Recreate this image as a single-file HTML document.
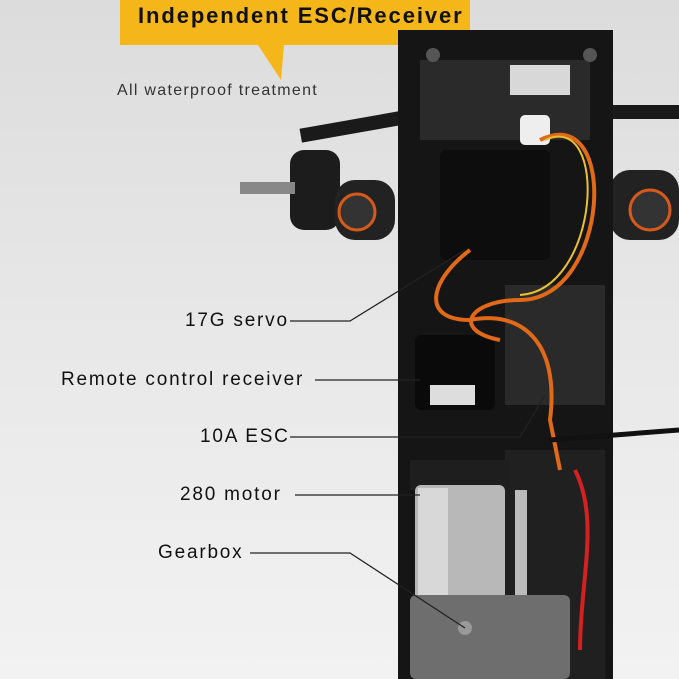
<!DOCTYPE html>
<html><head><style>
body{margin:0;width:679px;height:679px;overflow:hidden;background:linear-gradient(180deg,#dcdcdc 0%,#e8e8e8 50%,#f2f2f2 100%);font-family:"Liberation Sans","DejaVu Sans",sans-serif;position:relative}
.t{position:absolute;color:#111;font-size:19px;letter-spacing:1.8px;white-space:nowrap}
</style></head><body>
<svg width="679" height="679" style="position:absolute;left:0;top:0">
<path d="M120 0 H470 V45 H284 L281 80 L258 45 H120 Z" fill="#f5b619"/>
<rect x="300" y="120" width="110" height="14" fill="#1a1a1a" transform="rotate(-10 350 127)"/>
<rect x="290" y="150" width="50" height="80" rx="14" fill="#1c1c1c"/>
<rect x="240" y="182" width="55" height="12" fill="#888"/>
<rect x="335" y="180" width="60" height="60" rx="20" fill="#222"/>
<circle cx="357" cy="212" r="18" fill="#333" stroke="#d85a1a" stroke-width="3"/>
<rect x="600" y="105" width="79" height="14" fill="#1a1a1a"/>
<rect x="610" y="170" width="69" height="70" rx="20" fill="#222"/>
<circle cx="650" cy="210" r="20" fill="#333" stroke="#d85a1a" stroke-width="3"/>
<rect x="398" y="30" width="215" height="649" fill="#151515"/>
<rect x="420" y="60" width="170" height="80" fill="#2a2a2a"/>
<rect x="510" y="65" width="60" height="30" fill="#d8d8d8"/>
<circle cx="433" cy="55" r="7" fill="#555"/><circle cx="590" cy="55" r="7" fill="#555"/>
<rect x="440" y="150" width="110" height="110" rx="6" fill="#0d0d0d"/>
<rect x="520" y="115" width="30" height="30" rx="5" fill="#eee"/>
<rect x="505" y="285" width="100" height="120" fill="#2a2a2a"/>
<rect x="415" y="335" width="80" height="75" rx="6" fill="#0a0a0a"/>
<rect x="430" y="385" width="45" height="20" fill="#ddd"/>
<rect x="505" y="450" width="100" height="229" fill="#202020"/>
<rect x="410" y="460" width="100" height="30" fill="#1e1e1e"/>
<rect x="415" y="485" width="90" height="115" rx="6" fill="#b8b8b8"/>
<rect x="418" y="488" width="30" height="108" fill="#d8d8d8"/>
<rect x="515" y="490" width="12" height="110" fill="#bbb"/>
<rect x="410" y="595" width="160" height="84" rx="6" fill="#6e6e6e"/>
<circle cx="465" cy="628" r="7" fill="#999"/>
<path d="M470 250 C430 280 420 320 470 320 C520 310 560 340 550 420 L560 470" stroke="#e06a18" stroke-width="4" fill="none"/>
<path d="M540 140 C620 100 610 300 520 300 C470 300 450 330 500 340" stroke="#e06a18" stroke-width="4" fill="none"/>
<path d="M545 140 C610 110 600 290 520 295" stroke="#e8c030" stroke-width="2" fill="none"/>
<path d="M550 440 L679 430" stroke="#111" stroke-width="5" fill="none"/>
<path d="M575 470 C600 520 580 580 580 650" stroke="#d42020" stroke-width="4" fill="none"/>
<g stroke="#222" stroke-width="1.3" fill="none">
<path d="M290 321 H350 L465 250"/>
<path d="M315 380 H420"/>
<path d="M290 437 H520 L545 395"/>
<path d="M295 495 H420"/>
<path d="M250 553 H350 L465 628"/>
</g>
</svg>
<div class="t" style="left:138px;top:3px;font-size:22px;letter-spacing:1.9px;font-weight:bold">Independent ESC/Receiver</div>
<div class="t" style="left:117px;top:82px;font-size:16px;letter-spacing:1.3px;color:#333">All waterproof treatment</div>
<div class="t" style="left:185px;top:310px">17G servo</div>
<div class="t" style="left:61px;top:369px">Remote control receiver</div>
<div class="t" style="left:200px;top:426px">10A ESC</div>
<div class="t" style="left:180px;top:484px">280 motor</div>
<div class="t" style="left:158px;top:542px">Gearbox</div>
</body></html>
